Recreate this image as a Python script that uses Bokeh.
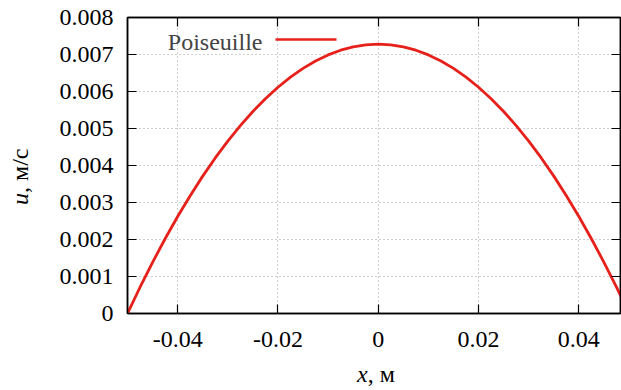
from bokeh.plotting import figure
from bokeh.models import LinearAxis, FixedTicker, Label, BoxAnnotation, Range1d, Div
from bokeh.layouts import row, column
from bokeh.embed import file_html
from bokeh.resources import INLINE

# data
x_vals = [-0.05, -0.0475, -0.045, -0.0425, -0.04, -0.0375, -0.035, -0.0325, -0.03,
          -0.0275, -0.025, -0.0225, -0.02, -0.0175, -0.015, -0.0125, -0.01, -0.0075,
          -0.005, -0.0025, 0.0, 0.0025, 0.005, 0.0075, 0.01, 0.0125, 0.015, 0.0175,
          0.02, 0.0225, 0.025, 0.0275, 0.03, 0.0325, 0.035, 0.0375, 0.04, 0.0425,
          0.045, 0.0475, 0.0485]
u_vals = [0.0, 0.00071, 0.001383, 0.00202, 0.002621, 0.003185, 0.003713, 0.004204,
          0.004659, 0.005078, 0.00546, 0.005806, 0.006115, 0.006388, 0.006625,
          0.006825, 0.006989, 0.007116, 0.007207, 0.007262, 0.00728, 0.007262,
          0.007207, 0.007116, 0.006989, 0.006825, 0.006625, 0.006388, 0.006115,
          0.005806, 0.00546, 0.005078, 0.004659, 0.004204, 0.003713, 0.003185,
          0.002621, 0.00202, 0.001383, 0.00071, 0.00043]
x_ticks = [-0.04, -0.02, 0.0, 0.02, 0.04]
x_tick_labels = {-0.04: "-0.04", -0.02: "-0.02", 0.0: "0", 0.02: "0.02", 0.04: "0.04"}
y_ticks = [0.0, 0.001, 0.002, 0.003, 0.004, 0.005, 0.006, 0.007, 0.008]
y_tick_labels = {0.0: "0", 0.001: "0.001", 0.002: "0.002", 0.003: "0.003", 0.004: "0.004",
                 0.005: "0.005", 0.006: "0.006", 0.007: "0.007", 0.008: "0.008"}
series_name = "Poiseuille"
x_title_var, x_title_unit = "x", ", м"
y_title_var, y_title_unit = "u", ", м/с"

FONT = "Liberation Serif"
RED = "#e6201a"

p = figure(width=581, height=362, output_backend="svg", toolbar_location=None,
           x_range=Range1d(-0.05, 0.0483), y_range=Range1d(0.0, 0.008),
           min_border_left=87, min_border_right=1, min_border_top=17, min_border_bottom=49)
p.outline_line_color = "black"
p.outline_line_width = 1.5
p.background_fill_color = "white"
p.border_fill_color = "white"

p.line(x_vals, u_vals, line_color=RED, line_width=2.8)

for ax in (p.xaxis[0], p.yaxis[0]):
    ax.axis_line_color = "black"
    ax.axis_line_width = 1.5
    ax.major_tick_in = 9
    ax.major_tick_out = 0
    ax.major_tick_line_width = 1.2
    ax.minor_tick_line_color = None
    ax.major_label_text_font = FONT
    ax.major_label_text_font_size = "24px"
    ax.major_label_text_color = "black"

p.xaxis[0].ticker = FixedTicker(ticks=x_ticks)
p.xaxis[0].major_label_overrides = x_tick_labels
p.xaxis[0].major_label_standoff = 18
p.yaxis[0].ticker = FixedTicker(ticks=y_ticks)
p.yaxis[0].major_label_overrides = y_tick_labels
p.yaxis[0].major_label_standoff = 14

for side, ticks in (("above", x_ticks), ("right", y_ticks)):
    ax = LinearAxis(ticker=FixedTicker(ticks=ticks))
    ax.axis_line_color = "black"
    ax.axis_line_width = 1.5
    ax.major_tick_in = 9
    ax.major_tick_out = 0
    ax.major_tick_line_width = 1.2
    ax.minor_tick_line_color = None
    ax.major_label_text_color = None
    ax.major_label_text_font_size = "1px"
    ax.major_label_standoff = 0
    p.add_layout(ax, side)

p.xgrid.ticker = FixedTicker(ticks=x_ticks)
p.ygrid.ticker = FixedTicker(ticks=y_ticks[1:-1])
for g in (p.xgrid[0], p.ygrid[0]):
    g.grid_line_color = "#a0a0a0"
    g.grid_line_dash = "1 3"
    g.grid_line_width = 1

# key (screen units are frame-relative)
p.add_layout(Label(x=135, y=272, x_units="screen", y_units="screen", text=series_name,
                   text_font=FONT, text_font_size="24px", text_align="right",
                   text_baseline="middle"))
p.add_layout(BoxAnnotation(left=148, right=209, bottom=272.7, top=275.3,
                           left_units="screen", right_units="screen",
                           bottom_units="screen", top_units="screen",
                           fill_color=RED, fill_alpha=1.0, line_color=None))

# axis titles with italic variable and upright units
font_css = "font-family:'Liberation Serif'; font-size:24px; line-height:24px; color:black; white-space:nowrap;"
div_y = Div(width=40, height=390, margin=0,
            text=('<div style="position:absolute; left:8px; top:205px; transform:rotate(-90deg); '
                  'transform-origin:0 0; ' + font_css + '"><i>' + y_title_var + '</i>'
                  + y_title_unit + '</div>'))
div_x = Div(width=581, height=28, margin=0,
            text=('<div style="padding-left:317px; ' + font_css + '"><i>' + x_title_var
                  + '</i>' + x_title_unit + '</div>'))

layout = row(div_y, column(p, div_x, spacing=0), spacing=0)

open("out.html", "w").write(file_html(layout, INLINE))
